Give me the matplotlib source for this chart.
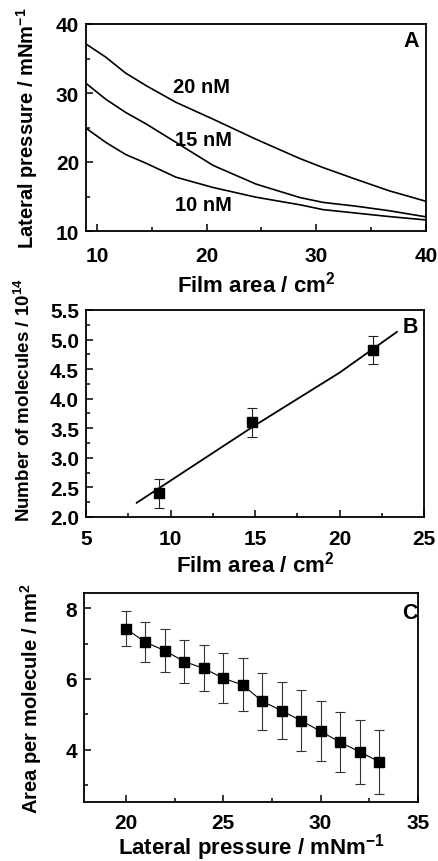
import matplotlib
matplotlib.use("Agg")
import matplotlib.pyplot as plt
from matplotlib.ticker import MultipleLocator

plt.rcParams['font.family'] = ['Liberation Sans', 'DejaVu Sans']
plt.rcParams['font.weight'] = 'bold'
plt.rcParams['mathtext.fontset'] = 'custom'
plt.rcParams['mathtext.rm'] = 'Liberation Sans:bold'
plt.rcParams['mathtext.default'] = 'rm'

# ---------------- Panel A data ----------------
area_A = [9, 10.8, 12.6, 14.5, 17.2, 20.6, 24.5, 28.5, 30.6, 33.6, 36.6, 40]
p_20nM = [37.1, 35.2, 32.9, 31.05, 28.65, 26.2, 23.3, 20.5, 19.2, 17.5, 15.85, 14.3]
p_15nM = [31.4, 29.1, 27.2, 25.5, 22.85, 19.5, 16.8, 14.85, 14.15, 13.6, 12.95, 12.05]
p_10nM = [24.9, 22.85, 21.1, 19.8, 17.8, 16.3, 14.9, 13.8, 13.1, 12.6, 12.1, 11.6]
labels_A = ["20 nM", "15 nM", "10 nM"]
label_pos_A = [(19.5, 30.9), (19.7, 23.3), (19.7, 13.9)]

# ---------------- Panel B data ----------------
area_B = [9.3, 14.8, 22.0]
molecules_B = [2.40, 3.60, 4.82]
molecules_err_B = [0.25, 0.24, 0.24]
fit_x_B = [8.0, 15.0, 20.0, 23.4]
fit_y_B = [2.24, 3.55, 4.44, 5.13]

# ---------------- Panel C data ----------------
pressure_C = [20, 21, 22, 23, 24, 25, 26, 27, 28, 29, 30, 31, 32, 33]
area_mol_C = [7.42, 7.04, 6.80, 6.49, 6.30, 6.02, 5.83, 5.37, 5.10, 4.82, 4.52, 4.21, 3.94, 3.66]
area_err_C = [0.49, 0.57, 0.60, 0.60, 0.65, 0.70, 0.75, 0.80, 0.80, 0.86, 0.85, 0.85, 0.90, 0.90]

W, H = 439, 862
fig = plt.figure(figsize=(W / 100, H / 100), dpi=100)

def ax_at(left, top, right, bottom):
    return fig.add_axes([left / W, 1 - bottom / H, (right - left) / W, (bottom - top) / H])

FS_TICK = 15
FS_XL = 16
FS_YL = 14.5
FS_TXT = 14.5

def style(ax, xpad=11):
    for s in ax.spines.values():
        s.set_linewidth(1.3)
    ax.tick_params(which='both', direction='in', top=False, right=False,
                   labelsize=FS_TICK, width=1.1)
    ax.tick_params(which='major', length=5)
    ax.tick_params(which='minor', length=3)
    ax.tick_params(axis='x', pad=xpad)
    ax.tick_params(axis='y', pad=5)
    for lab in ax.get_xticklabels() + ax.get_yticklabels():
        lab.set_fontweight('bold')

# ---------- A ----------
axA = ax_at(86, 25, 426, 232)
for ys in (p_20nM, p_15nM, p_10nM):
    axA.plot(area_A, ys, color='black', lw=1.2, solid_joinstyle='round')
for lab, (x, y) in zip(labels_A, label_pos_A):
    axA.text(x, y, lab, fontsize=FS_TXT, fontweight='bold', ha='center', va='center')
axA.set_xlim(9, 40)
axA.set_ylim(10, 40)
axA.xaxis.set_major_locator(MultipleLocator(10))
axA.xaxis.set_minor_locator(MultipleLocator(5))
axA.yaxis.set_major_locator(MultipleLocator(10))
axA.yaxis.set_minor_locator(MultipleLocator(5))
axA.set_xlabel("Film area / cm$^2$", fontsize=FS_XL, fontweight='bold')
axA.set_ylabel("Lateral pressure / mNm$^{-1}$", fontsize=FS_YL, fontweight='bold')
axA.text(0.956, 0.918, "A", transform=axA.transAxes, fontsize=FS_TXT + 1,
         fontweight='bold', ha='center', va='center')
style(axA)
axA.xaxis.set_label_coords(0.5, -0.19)
axA.yaxis.set_label_coords(-0.135, 0.5)

# ---------- B ----------
axB = ax_at(86, 311, 424, 518)
axB.plot(fit_x_B, fit_y_B, color='black', lw=1.3)
axB.errorbar(area_B, molecules_B, yerr=molecules_err_B, fmt='s', color='black',
             ms=6.5, ecolor='#222222', elinewidth=0.8, capsize=3.5, capthick=0.8)
axB.set_xlim(5, 25)
axB.set_ylim(2.0, 5.5)
axB.xaxis.set_major_locator(MultipleLocator(5))
axB.xaxis.set_minor_locator(MultipleLocator(2.5))
axB.yaxis.set_major_locator(MultipleLocator(0.5))
axB.yaxis.set_minor_locator(MultipleLocator(0.25))
axB.yaxis.set_major_formatter(plt.FormatStrFormatter('%.1f'))
axB.set_xlabel("Film area / cm$^2$", fontsize=FS_XL, fontweight='bold')
axB.set_ylabel("Number of molecules / 10$^{14}$", fontsize=13.5, fontweight='bold')
axB.text(0.959, 0.918, "B", transform=axB.transAxes, fontsize=FS_TXT + 1,
         fontweight='bold', ha='center', va='center')
style(axB, xpad=9)
axB.xaxis.set_label_coords(0.5, -0.16)
axB.yaxis.set_label_coords(-0.155, 0.57)

# ---------- C ----------
axC = ax_at(84, 594, 418, 803)
axC.errorbar(pressure_C, area_mol_C, yerr=area_err_C, fmt='s-', color='black',
             lw=0.8, ms=6.5, ecolor='#333333', elinewidth=0.8, capsize=3.5,
             capthick=0.8)
axC.set_xlim(17.85, 35)
axC.set_ylim(2.52, 8.43)
axC.xaxis.set_major_locator(MultipleLocator(5))
axC.xaxis.set_minor_locator(MultipleLocator(2.5))
axC.yaxis.set_major_locator(MultipleLocator(2))
axC.yaxis.set_minor_locator(MultipleLocator(1))
axC.set_xlabel("Lateral pressure / mNm$^{-1}$", fontsize=16, fontweight='bold')
axC.set_ylabel("Area per molecule / nm$^2$", fontsize=FS_YL, fontweight='bold')
axC.text(0.976, 0.909, "C", transform=axC.transAxes, fontsize=FS_TXT + 1,
         fontweight='bold', ha='center', va='center')
style(axC, xpad=8)
axC.xaxis.set_label_coords(0.5, -0.14)
axC.yaxis.set_label_coords(-0.12, 0.5)

fig.savefig("out.png", dpi=100)
